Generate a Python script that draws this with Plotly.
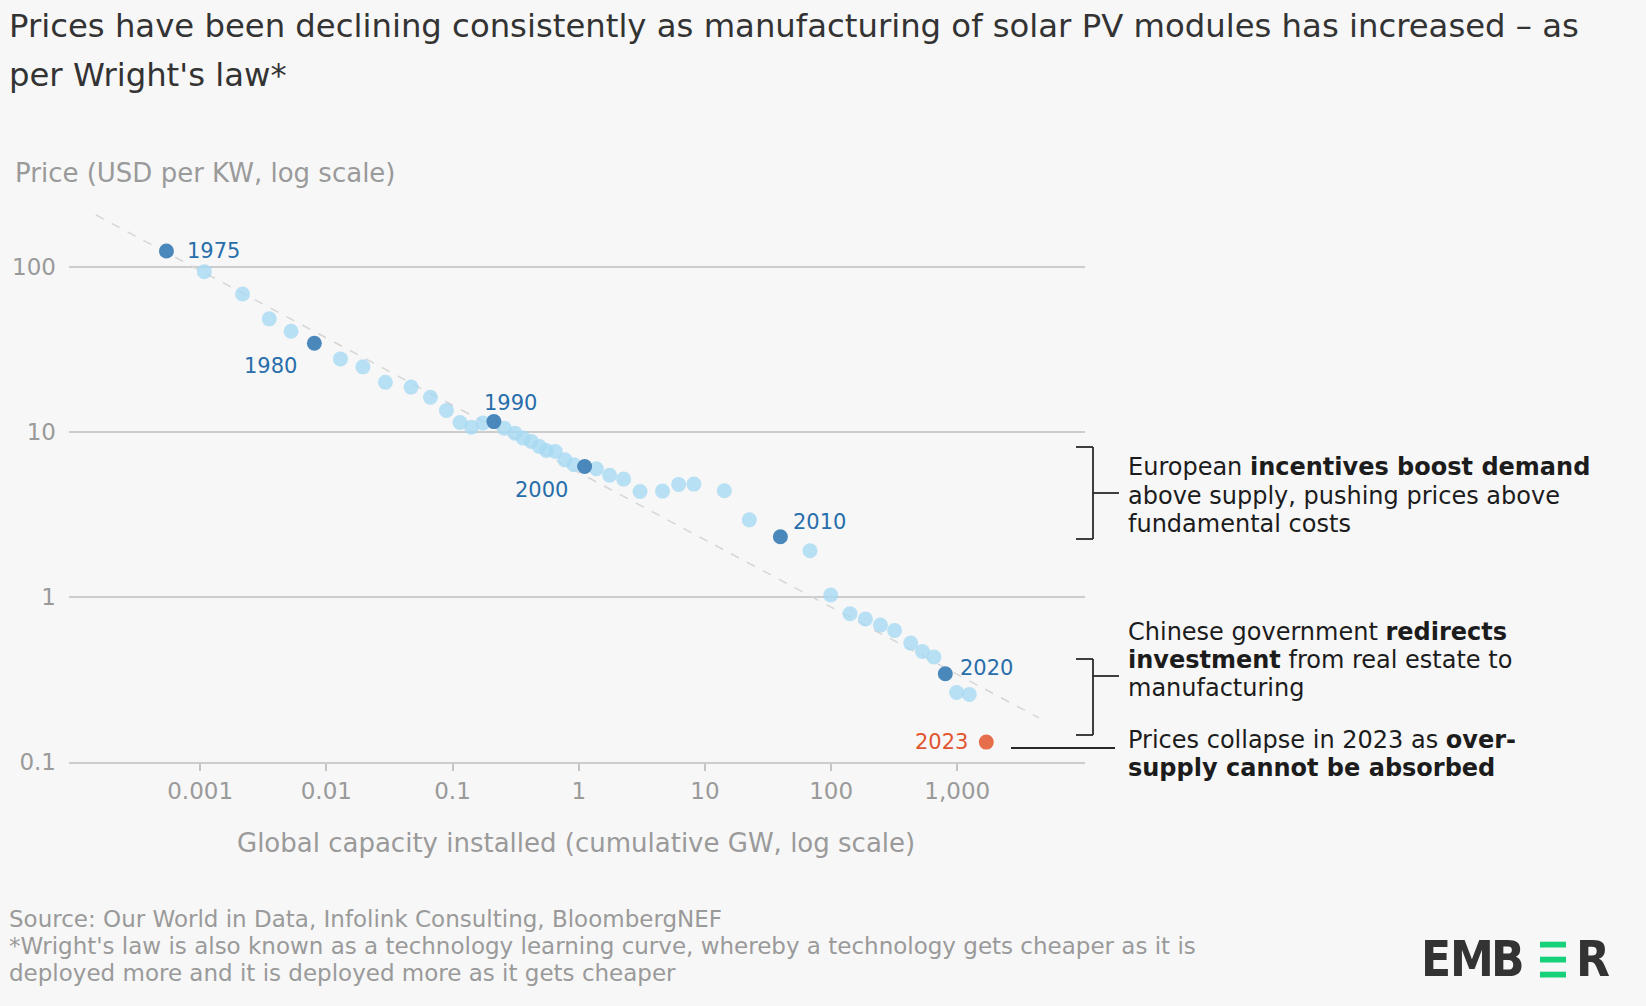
import numpy as np
import plotly.graph_objects as go

# ---- data -------------------------------------------------------------
years = list(range(1975, 2024))

# cumulative installed PV capacity (GW)
capacity_gw = [
    0.000541, 0.00108, 0.00217, 0.00353, 0.00526, 0.00804, 0.01294, 0.0195,
    0.0294, 0.0470, 0.0668, 0.0895, 0.1146, 0.1413, 0.1742, 0.2128,
    0.2570, 0.3126, 0.3631, 0.4217, 0.4875, 0.5546, 0.6531, 0.7780,
    0.9162, 1.114, 1.380, 1.758, 2.270, 3.062, 4.613, 6.194,
    8.185, 14.26, 22.49, 39.63, 68.08, 99.31, 141.3, 187.1,
    246.0, 318.4, 427.6, 529.7, 653.1, 803.5, 988.5, 1245.0,
    1698.0,
]

# module price (USD per KW as labelled on the axis)
price = [
    125.3, 93.97, 68.87, 48.64, 40.93, 34.59, 27.80, 24.89,
    20.09, 18.75, 16.29, 13.52, 11.43, 10.72, 11.35, 11.59,
    10.57, 9.86, 9.20, 8.77, 8.18, 7.74, 7.64, 6.79,
    6.34, 6.19, 6.00, 5.48, 5.19, 4.37, 4.39, 4.82,
    4.84, 4.41, 2.94, 2.32, 1.91, 1.03, 0.793, 0.736,
    0.676, 0.628, 0.526, 0.468, 0.433, 0.343, 0.264, 0.257,
    0.132,
]

highlight_years = [1975, 1980, 1990, 2000, 2010, 2020]
collapse_year = 2023

# Wright's law trend line end points
trend_capacity = [0.000149, 4436.0]
trend_price = [207.5, 0.185]

x_tick_vals = [0.001, 0.01, 0.1, 1, 10, 100, 1000]
x_tick_text = ["0.001", "0.01", "0.1", "1", "10", "100", "1,000"]
y_tick_vals = [0.1, 1, 10, 100]
y_tick_text = ["0.1", "1", "10", "100"]

# ---- styling ----------------------------------------------------------
FONT = "DejaVu Sans"
LOGO_FONT = "Liberation Sans Narrow, Arial Narrow, DejaVu Sans Condensed, sans-serif"
BG = "#f7f7f7"
LIGHT = "rgba(167,217,243,0.8)"
DARK = "rgb(74,136,187)"
ORANGE = "rgb(230,110,75)"
LABEL_BLUE = "rgb(40,110,170)"
LABEL_ORANGE = "rgb(226,84,48)"
GREY_TEXT = "#9a9a9a"
INK = "#1c1c1c"

W, H = 1646, 1006
PL, PR, PT, PB = 69, 1085, 193, 762  # plot area in pixels


def px(x):
    return (x - PL) / (PR - PL)


def py(y):
    return (PB - y) / (PB - PT)


light_idx = [i for i, y in enumerate(years) if y not in highlight_years and y != collapse_year]
dark_idx = [i for i, y in enumerate(years) if y in highlight_years]
orange_idx = [years.index(collapse_year)]

fig = go.Figure()

fig.add_trace(go.Scatter(
    x=trend_capacity, y=trend_price, mode="lines",
    line=dict(color="#d6d6d6", width=1.5, dash="dash"),
    hoverinfo="skip", showlegend=False,
))

fig.add_trace(go.Scatter(
    x=[capacity_gw[i] for i in light_idx], y=[price[i] for i in light_idx],
    mode="markers", marker=dict(size=15, color=LIGHT, line=dict(width=0)),
    showlegend=False,
))
fig.add_trace(go.Scatter(
    x=[capacity_gw[i] for i in dark_idx], y=[price[i] for i in dark_idx],
    mode="markers", marker=dict(size=15, color=DARK, line=dict(width=0)),
    showlegend=False,
))
fig.add_trace(go.Scatter(
    x=[capacity_gw[i] for i in orange_idx], y=[price[i] for i in orange_idx],
    mode="markers", marker=dict(size=15, color=ORANGE, line=dict(width=0)),
    showlegend=False,
))

annotations = []


def text_at(txt, x, y, size, color, xanchor="left"):
    annotations.append(dict(
        x=px(x), y=py(y), xref="paper", yref="paper", text=txt, showarrow=False,
        xanchor=xanchor, yanchor="middle", align="left",
        font=dict(family=FONT, size=size, color=color),
    ))


# year labels next to highlighted points: (xanchor, xshift, yshift)
label_offsets = {
    1975: ("left", 19, 0),
    1980: ("right", -15, -23),
    1990: ("left", -12, 19),
    2000: ("right", -15, -23),
    2010: ("left", 11, 15),
    2020: ("left", 13, 6),
    2023: ("right", -16, 0),
}
for yr, (xa, xs, ys) in label_offsets.items():
    i = years.index(yr)
    annotations.append(dict(
        x=np.log10(capacity_gw[i]), y=np.log10(price[i]), xref="x", yref="y",
        text=str(yr), showarrow=False, xanchor=xa, yanchor="middle",
        xshift=xs, yshift=ys,
        font=dict(family=FONT, size=21, color=LABEL_ORANGE if yr == collapse_year else LABEL_BLUE),
    ))

# title
text_at("Prices have been declining consistently as manufacturing of solar PV modules has increased – as",
        7, 26, 32.3, "#333333")
text_at("per Wright's law*", 7, 75, 32.3, "#333333")

# axis titles
text_at("Price (USD per KW, log scale)", 13, 173, 26, GREY_TEXT)
text_at("Global capacity installed (cumulative GW, log scale)", 576, 843, 26, GREY_TEXT, xanchor="center")

# side notes, one line each
note_lines = [
    ("European <b>incentives boost demand</b>", 466.5),
    ("above supply, pushing prices above", 495.5),
    ("fundamental costs", 524),
    ("Chinese government <b>redirects</b>", 631.5),
    ("<b>investment</b> from real estate to", 660),
    ("manufacturing", 688),
    ("Prices collapse in 2023 as <b>over-</b>", 739.5),
    ("<b>supply cannot be absorbed</b>", 767.5),
]
for txt, yc in note_lines:
    text_at(txt, 1126, yc, 24, INK)

# footer
text_at("Source: Our World in Data, Infolink Consulting, BloombergNEF", 7, 919, 23, GREY_TEXT)
text_at("*Wright's law is also known as a technology learning curve, whereby a technology gets cheaper as it is",
        7, 946, 23, GREY_TEXT)
text_at("deployed more and it is deployed more as it gets cheaper", 7, 973, 23, GREY_TEXT)

# logo letters
for ch, xc in [("E", 1435.5), ("M", 1471.7), ("B", 1508.3), ("R", 1592.5)]:
    annotations.append(dict(
        x=px(xc), y=py(959.5), xref="paper", yref="paper", text=f"<b>{ch}</b>", showarrow=False,
        xanchor="center", yanchor="middle",
        font=dict(family=LOGO_FONT, size=49, color="#333333"),
    ))

shapes = []
LINE = dict(color="#2a2a2a", width=1.8)


def seg(x0, y0, x1, y1, line=LINE):
    shapes.append(dict(type="line", xref="paper", yref="paper",
                       x0=px(x0), y0=py(y0), x1=px(x1), y1=py(y1), line=line))


# bracket: European incentives
seg(1076, 447, 1093, 447)
seg(1093, 447, 1093, 539)
seg(1076, 539, 1093, 539)
seg(1093, 493, 1119, 493)
# bracket: Chinese investment
seg(1076, 659, 1093, 659)
seg(1093, 659, 1093, 735)
seg(1076, 735, 1093, 735)
seg(1093, 676, 1119, 676)
# pointer to 2023
seg(1011, 748, 1115, 748)

# green bars of the logo
for y0, y1 in [(941.7, 947.5), (956.7, 962.5), (971.7, 977.5)]:
    shapes.append(dict(type="rect", xref="paper", yref="paper",
                       x0=px(1540), x1=px(1566), y0=py(y1), y1=py(y0),
                       fillcolor="#17d17a", line=dict(width=0)))

fig.update_layout(
    width=W, height=H, autosize=False,
    margin=dict(l=PL, r=W - PR, t=PT, b=H - PB, pad=0),
    paper_bgcolor=BG, plot_bgcolor=BG,
    font=dict(family=FONT, color=GREY_TEXT),
    showlegend=False,
    annotations=annotations,
    shapes=shapes,
    xaxis=dict(
        type="log", range=[-4.039, 4.012],
        tickvals=x_tick_vals, ticktext=x_tick_text,
        showgrid=False, zeroline=False,
        showline=True, linecolor="#cccccc", linewidth=2,
        ticks="outside", ticklen=7, tickwidth=2, tickcolor="#c4c4c4",
        tickfont=dict(family=FONT, size=23, color=GREY_TEXT),
        ticklabelstandoff=0,
    ),
    yaxis=dict(
        type="log", range=[-1, 2.45],
        tickvals=y_tick_vals, ticktext=y_tick_text,
        showgrid=True, gridcolor="#cccccc", gridwidth=2,
        zeroline=False, showline=False, ticks="",
        tickfont=dict(family=FONT, size=23, color=GREY_TEXT),
        ticklabelstandoff=12,
    ),
)

fig.write_html("out.html")
